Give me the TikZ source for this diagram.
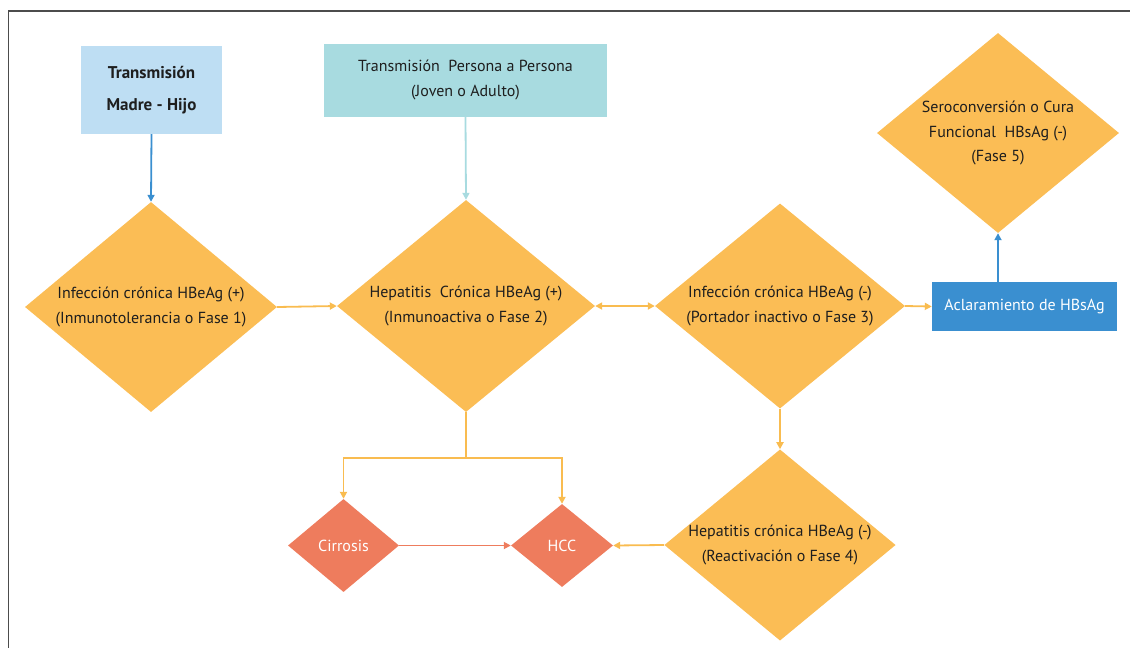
\documentclass[tikz,border=0pt]{standalone}
\usepackage{fontspec}
\setmainfont{PT Sans}
\usetikzlibrary{shapes.geometric,arrows.meta,calc}
\definecolor{orng}{HTML}{FBBD55}
\definecolor{orngline}{HTML}{F9BC50}
\definecolor{salm}{HTML}{EE7C5D}
\definecolor{lblue}{HTML}{BEDEF3}
\definecolor{teal}{HTML}{A8DBE0}
\definecolor{dblue}{HTML}{3A8FD0}
\definecolor{txt}{HTML}{1E1E1E}
\begin{document}
\begin{tikzpicture}[x=1pt,y=-1pt,
  phase/.style={diamond,fill=orng,inner sep=0pt,align=center,text=txt,
    font=\fontsize{16}{24.5}\selectfont},
  risk/.style={diamond,fill=salm,inner sep=0pt,align=center,text=white,
    font=\fontsize{16}{20}\selectfont},
  srcbox/.style={rectangle,inner sep=0pt,align=center,text=txt},
  tip/.style={-{Triangle[length=7pt,width=7pt]}},
  oarr/.style={draw=orngline,line width=1.8pt,tip},
  barr/.style={draw=dblue,line width=1.8pt,tip},
  tarr/.style={draw=teal,line width=1.8pt,tip},
  rarr/.style={draw=salm,line width=1.8pt,tip}
]
\useasboundingbox (0,0) rectangle (1130,648);
\draw[draw=black!70,line width=1.6pt] (8.5,648) -- (8.5,11) -- (1130,11);

\node[srcbox,fill=lblue,minimum width=141pt,minimum height=88pt,
  font=\bfseries\fontsize{17}{32}\selectfont] (mh) at (151.5,90)
  {Transmisión\\Madre - Hijo};
\node[srcbox,fill=teal,minimum width=283pt,minimum height=73pt,
  font=\fontsize{16}{25}\selectfont] (pp) at (465.5,80)
  {Transmisión\ \ Persona a Persona\\(Joven o Adulto)};

\node[phase,aspect=1.2,minimum width=252pt,minimum height=210pt] (d1) at (151,307)
  {Infección crónica HBeAg (+)\\(Inmunotolerancia o Fase 1)};
\node[phase,aspect=1.22,minimum width=258pt,minimum height=212pt] (d2) at (466,306)
  {Hepatitis\ \ Crónica HBeAg (+)\\(Inmunoactiva o Fase 2)};
\node[phase,aspect=1.22,minimum width=250pt,minimum height=205pt] (d3) at (780,306)
  {Infección crónica HBeAg (-)\\(Portador inactivo o Fase 3)};
\node[phase,aspect=1.21,minimum width=242pt,minimum height=200pt] (d5) at (998,133)
  {Seroconversión o Cura\\Funcional\ \ HBsAg (-)\\(Fase 5)};
\node[phase,aspect=1.21,minimum width=226pt,minimum height=186pt] (d4) at (780,545)
  {Hepatitis crónica HBeAg (-)\\(Reactivación o Fase 4)};

\node[srcbox,fill=dblue,text=white,minimum width=185pt,minimum height=49pt,
  font=\fontsize{16}{20}\selectfont] (acl) at (1024.5,306.5) {Aclaramiento de HBsAg};

\node[risk,aspect=1.2,minimum width=111pt,minimum height=93pt] (cir) at (343.5,545.5) {Cirrosis};
\node[risk,aspect=1.2,minimum width=102pt,minimum height=83pt] (hcc) at (562,545.5) {HCC};

\draw[barr] (mh.south) -- (d1.north);
\draw[tarr] (pp.south) -- (d2.north);
\draw[oarr] (d1.east) -- (d2.west);
\draw[draw=orngline,line width=1.8pt,{Triangle[length=7pt,width=7pt]}-{Triangle[length=7pt,width=7pt]}] (d2.east) -- (d3.west);
\draw[oarr] (d3.east) -- (acl.west);
\draw[barr] (d5.south |- acl.north) -- (d5.south);
\draw[oarr] (d3.south) -- (d4.north);
\draw[oarr] (d4.west) -- (hcc.east);
\draw[rarr] (cir.east) -- (hcc.west);
\coordinate (j) at (466,458);
\draw[oarr] (d2.south) -- (j) -| (cir.north);
\draw[oarr] (j) -| (hcc.north);
\end{tikzpicture}
\end{document}
